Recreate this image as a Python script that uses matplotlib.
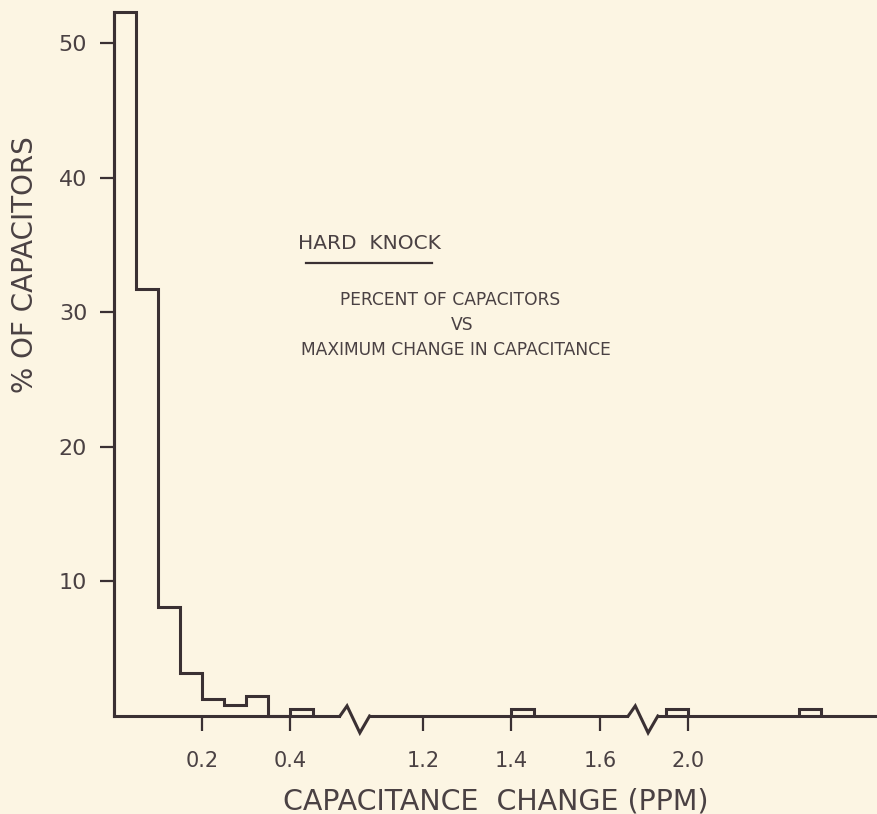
import matplotlib
matplotlib.use("Agg")
import matplotlib.pyplot as plt
import numpy as np

# histogram bins (lower edge, PPM) and percent of capacitors in each bin
bin_left = [0.00, 0.05, 0.10, 0.15, 0.20, 0.25, 0.30, 0.35, 0.40, 1.40, 1.95, 2.25]
pct = [52.3, 31.7, 8.1, 3.2, 1.25, 0.8, 1.5, 0.0, 0.55, 0.55, 0.55, 0.55]
bin_width = 0.05

# broken x axis: real value -> shift applied on the drawn axis
seg_start = [0.0, 1.0, 1.9]
seg_shift = [0.0, 0.5, 0.7]
break_at = [0.512, 1.164]          # drawn position where each break starts

xtick_vals = [0.2, 0.4, 1.2, 1.4, 1.6, 2.0]
xtick_labels = ["0.2", "0.4", "1.2", "1.4", "1.6", "2.0"]
ytick_vals = [10, 20, 30, 40, 50]

bg = "#fcf5e3"
ink = "#3a3033"
txt = "#4a4143"


def to_disp(r):
    shift = 0.0
    for s, sh in zip(seg_start, seg_shift):
        if r >= s - 1e-9:
            shift = sh
    return r - shift


fig = plt.figure(figsize=(8.78, 8.14), dpi=100, facecolor=bg)
ax = fig.add_axes([113.6 / 878, 98 / 814, 1 - 113.6 / 878, 716 / 814])
ax.set_facecolor(bg)

# group contiguous bins and draw each group as one outline
runs = []
cur = [0]
for i in range(1, len(bin_left)):
    if abs(bin_left[i] - (bin_left[i - 1] + bin_width)) < 1e-9:
        cur.append(i)
    else:
        runs.append(cur)
        cur = [i]
runs.append(cur)

for run in runs:
    start = to_disp(bin_left[run[0]])
    edges = start + bin_width * np.arange(len(run) + 1)
    vals = [pct[i] for i in run]
    ax.stairs(vals, edges, baseline=0, fill=False, color=ink, linewidth=2.2,
              zorder=3, clip_on=False)

ax.set_xlim(0, 1.729)
ax.set_ylim(0, 53.2)

for s in ["top", "right"]:
    ax.spines[s].set_visible(False)
for s in ["left", "bottom"]:
    ax.spines[s].set_color(ink)
    ax.spines[s].set_linewidth(2.2)
ax.spines["left"].set_bounds(0, pct[0])

# axis breaks (zigzag)
zx = [0, 0.016, 0.045, 0.067]
zy = [0, 0.75, -1.25, 0]
for b in break_at:
    ax.plot([b + 0.002, b + 0.065], [0, 0], color=bg, linewidth=4, zorder=2.6,
            clip_on=False, solid_capstyle="butt")
    ax.plot([b + d for d in zx], zy, color=ink, linewidth=2.2, zorder=4,
            clip_on=False, solid_joinstyle="miter")

ax.set_xticks([to_disp(v) for v in xtick_vals])
ax.set_xticklabels(xtick_labels)
ax.set_yticks(ytick_vals)
ax.tick_params(axis="x", direction="out", length=11, width=1.6, pad=14,
               labelsize=15, colors=ink, labelcolor=txt)
ax.tick_params(axis="y", direction="out", length=10, width=1.6, pad=9,
               labelsize=16, colors=ink, labelcolor=txt)

ax.set_xlabel("CAPACITANCE  CHANGE (PPM)", fontsize=20.5, color=txt, labelpad=12)
ax.set_ylabel("% OF CAPACITORS", fontsize=20, color=txt)
ax.yaxis.set_label_coords(-0.097, 0.63)

# annotation block
fig.text(369 / 878, 1 - 244 / 814, "HARD  KNOCK", ha="center", va="center",
         fontsize=14.5, color=txt)
fig.add_artist(plt.Line2D([306 / 878, 432 / 878], [1 - 263 / 814, 1 - 263 / 814],
                          color=ink, linewidth=1.6))
fig.text(450 / 878, 1 - 300 / 814, "PERCENT OF CAPACITORS", ha="center",
         va="center", fontsize=12.3, color=txt)
fig.text(462 / 878, 1 - 325 / 814, "VS", ha="center", va="center",
         fontsize=12.3, color=txt)
fig.text(456 / 878, 1 - 350 / 814, "MAXIMUM CHANGE IN CAPACITANCE", ha="center",
         va="center", fontsize=12.3, color=txt)

fig.savefig("out.png", dpi=100, facecolor=bg)
